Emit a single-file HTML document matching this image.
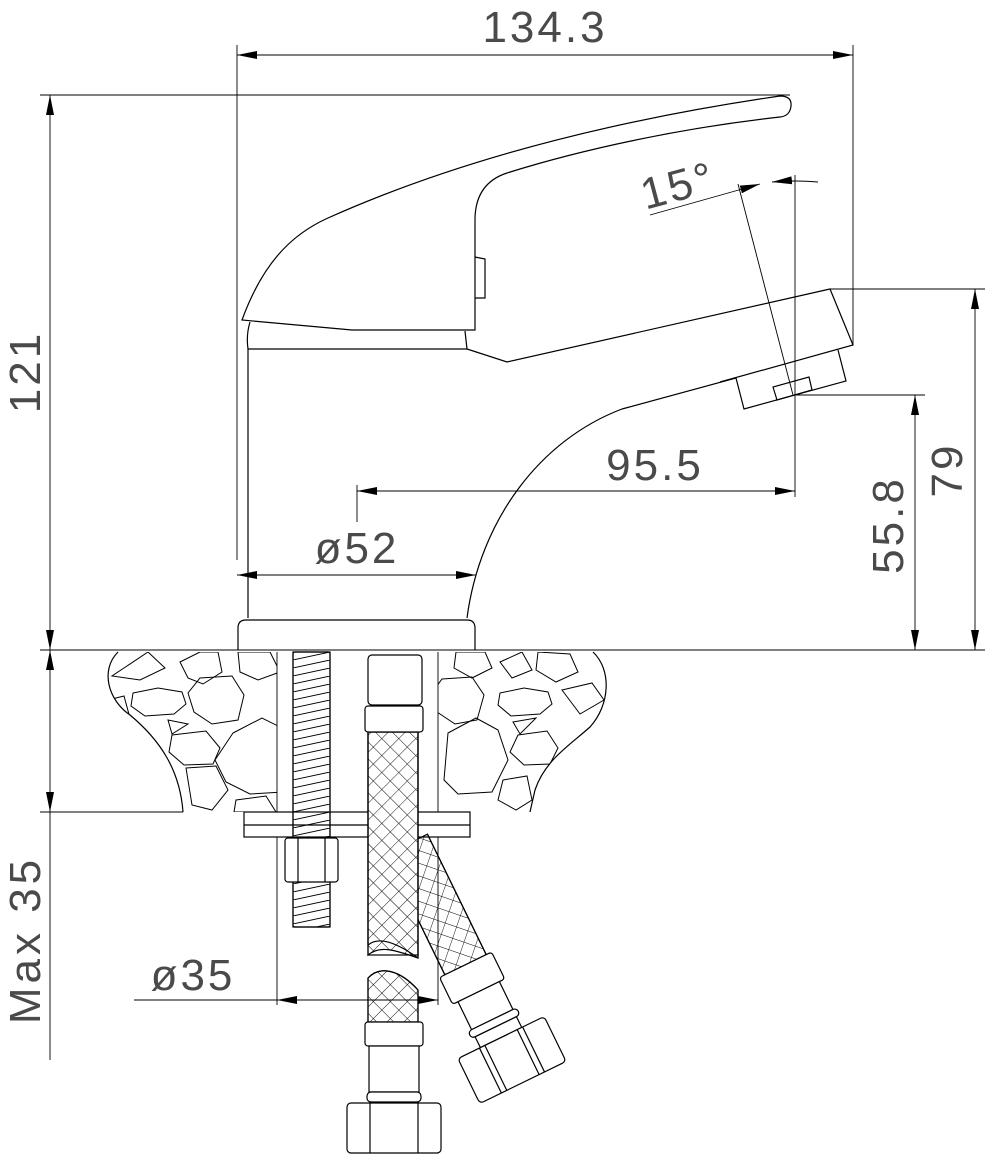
<!DOCTYPE html>
<html><head><meta charset="utf-8"><style>
html,body{margin:0;padding:0;background:#fff}
svg{display:block}
text{font-family:"Liberation Sans",sans-serif;fill:#4a4a4a}
</style></head><body>
<svg width="985" height="1161" viewBox="0 0 985 1161" xmlns="http://www.w3.org/2000/svg">
<defs>
<marker id="a" viewBox="0 0 20 8" refX="20" refY="4" markerWidth="20" markerHeight="8" markerUnits="userSpaceOnUse" orient="auto-start-reverse"><path d="M0,0 L20,4 L0,8z" fill="#000"/></marker>
<pattern id="rod" width="37" height="8" patternUnits="userSpaceOnUse" patternTransform="translate(293,652)"><line x1="0" y1="8" x2="37" y2="0" stroke="#000" stroke-width="0.9"/></pattern>
<pattern id="cross" width="12" height="12" patternUnits="userSpaceOnUse" patternTransform="rotate(45)"><path d="M0,0 V12 M0,0 H12" stroke="#000" stroke-width="0.9" fill="none"/></pattern>
<clipPath id="lstone"><path d="M118,652 L277,652 L277,812 L183,812 C180,770 160,740 130,715 C108,700 100,670 118,652z"/></clipPath>
<clipPath id="rstone"><path d="M438,652 L593,652 C612,670 610,705 590,727 C570,745 545,760 535,790 L530,812 L438,812z"/></clipPath>
</defs>
<g fill="none" stroke="#000" stroke-width="1.2">
<g stroke-width="0.9">
<line x1="237" y1="45" x2="237" y2="560"/>
<line x1="853" y1="45" x2="853" y2="345"/>
<line x1="237" y1="55" x2="853" y2="55" marker-start="url(#a)" marker-end="url(#a)"/>
<line x1="40" y1="95" x2="790" y2="95"/>
<line x1="50" y1="95" x2="50" y2="650" marker-start="url(#a)" marker-end="url(#a)"/>
<line x1="40" y1="650" x2="985" y2="650"/>
<line x1="830" y1="289" x2="985" y2="289"/>
<line x1="975" y1="289" x2="975" y2="650" marker-start="url(#a)" marker-end="url(#a)"/>
<line x1="795" y1="395" x2="925" y2="395"/>
<line x1="915" y1="395" x2="915" y2="650" marker-start="url(#a)" marker-end="url(#a)"/>
<line x1="795" y1="175" x2="795" y2="497"/>
<line x1="357" y1="485" x2="357" y2="522"/>
<line x1="357" y1="491" x2="795" y2="491" marker-start="url(#a)" marker-end="url(#a)"/>
<line x1="237" y1="575" x2="476" y2="575" marker-start="url(#a)" marker-end="url(#a)"/>
<line x1="738" y1="184" x2="793" y2="395"/>
<line x1="650" y1="215" x2="760" y2="184" marker-end="url(#a)"/>
<path d="M772,182 Q795,180 818,182" marker-start="url(#a)"/>
<line x1="40" y1="812" x2="183" y2="812"/>
<line x1="50" y1="650" x2="50" y2="812" marker-start="url(#a)" marker-end="url(#a)"/>
<line x1="50" y1="812" x2="50" y2="1060"/>
<line x1="277" y1="652" x2="277" y2="1005"/>
<line x1="438" y1="652" x2="438" y2="1005"/>
<line x1="134" y1="1000" x2="277" y2="1000"/>
<line x1="277" y1="1000" x2="438" y2="1000" marker-start="url(#a)" marker-end="url(#a)"/>
</g>
<path d="M242,320 C262,265 290,235 328,218 C480,150 650,115 780,96 Q792,96 791,106 Q790,116 780,117 C680,128 580,150 507,173 Q476,183 475,218 L475,330 L352,330 L242,320z"/>
<path d="M475,257 L485,259 L485,298 L475,298"/>
<path d="M250,322 Q246,335 248,349 L467,349 L465,331"/>
<path d="M467,349 L507,362 L830,289 L853,345 L720,382"/>
<path d="M736,378 L744,409 L846,381 L838,350"/>
<path d="M773,387 L777,400 L812,390 L809,377z"/>
<path d="M736,378 L622,409 C540,440 480,520 467,618"/>
<path d="M248,349 L248,618"/>
<path d="M238,650 L238,628 Q238,620 246,620 L467,620 Q475,620 475,628 L475,650"/>
<path d="M118,652 C100,670 108,700 130,715 C160,740 180,770 183,812"/>
<path d="M593,652 C612,670 610,705 590,727 C570,745 545,760 535,790 L530,812"/>
<g clip-path="url(#lstone)" stroke-width="1">
<polygon points="133,693 158,688 182,692 186,704 174,714 145,716 131,706"/>
<polygon points="200,678 232,676 244,695 238,720 212,724 194,712 188,693"/>
<polygon points="233,733 262,718 282,728 284,792 250,794 226,782 215,760"/>
<polygon points="172,735 206,731 220,748 213,764 184,765 169,752"/>
<polygon points="168,720 188,724 172,734"/>
<polygon points="148,652 165,668 140,680 112,676"/>
<polygon points="180,662 200,652 218,652 222,672 203,684 188,678"/>
<polygon points="238,652 270,652 280,672 258,680 240,672"/>
<polygon points="186,768 216,766 228,790 212,810 192,805"/>
<polygon points="236,800 266,796 276,812 234,812"/>
<polygon points="108,700 124,696 130,718"/>
</g>
<g clip-path="url(#rstone)" stroke-width="1">
<polygon points="500,693 524,688 548,692 552,704 540,714 511,716 498,705"/>
<polygon points="442,679 472,677 484,695 477,720 455,724 437,712 431,694"/>
<polygon points="448,733 476,718 498,730 508,760 492,792 458,794 444,780"/>
<polygon points="518,735 547,731 558,748 550,764 524,765 510,752"/>
<polygon points="513,722 536,718 520,734"/>
<polygon points="538,652 570,654 578,672 556,682 536,670"/>
<polygon points="456,652 485,652 492,668 472,678 454,668"/>
<polygon points="500,662 522,652 532,670 512,678"/>
<polygon points="503,780 527,776 532,800 516,810 498,800"/>
<polygon points="562,690 592,683 604,700 580,714"/>
</g>
<rect x="244" y="812" width="226" height="25" fill="#fff"/>
<line x1="244" y1="825" x2="470" y2="825"/>
<rect x="293" y="652" width="37" height="275" fill="url(#rod)"/>
<rect x="293" y="652" width="37" height="275" rx="2"/>
<rect x="285" y="838" width="53" height="44" rx="3" fill="#fff"/>
<line x1="298" y1="838" x2="298" y2="882"/><line x1="325" y1="838" x2="325" y2="882"/>
<g transform="translate(512,1060) rotate(-26)">
<rect x="-23" y="-240" width="46" height="134" fill="url(#cross)"/>
<line x1="-23" y1="-240" x2="-23" y2="-106"/><line x1="23" y1="-240" x2="23" y2="-106"/>
<rect x="-29" y="-106" width="58" height="30" rx="3" fill="#fff"/>
<rect x="-23" y="-76" width="46" height="31" fill="#fff"/>
<rect x="-27" y="-45" width="54" height="8" rx="4" fill="#fff"/>
<rect x="-23" y="-37" width="46" height="12" fill="#fff"/>
<rect x="-48" y="-25" width="96" height="50" rx="4" fill="#fff"/>
<line x1="-24" y1="-25" x2="-24" y2="25"/><line x1="24" y1="-25" x2="24" y2="25"/>
<line x1="-18" y1="-25" x2="-18" y2="25"/><line x1="18" y1="-25" x2="18" y2="25"/>
</g>
<rect x="368" y="732" width="50" height="223" fill="#fff"/>
<path d="M368,732 V955 C380,945 395,950 418,958 V732z" fill="url(#cross)"/>
<path d="M368,732 V945 M418,732 V958"/>
<path d="M368,945 C380,935 400,945 418,958"/>
<path d="M368,1022 V978 C380,965 400,970 418,990 V1022z" fill="url(#cross)"/>
<path d="M368,1022 V978 C380,965 400,970 418,990 V1022"/>
<rect x="368" y="655" width="54" height="50" rx="4" fill="#fff"/>
<rect x="365" y="706" width="58" height="26" rx="3" fill="#fff"/>
<rect x="365" y="1022" width="58" height="24" rx="3" fill="#fff"/>
<rect x="369" y="1046" width="50" height="46" fill="#fff"/>
<rect x="367" y="1092" width="54" height="10" rx="4" fill="#fff"/>
<rect x="347" y="1103" width="94" height="50" rx="4" fill="#fff"/>
<line x1="370" y1="1103" x2="370" y2="1153"/><line x1="418" y1="1103" x2="418" y2="1153"/>
</g>
<g font-size="44">
<text x="545" y="42" text-anchor="middle" letter-spacing="3">134.3</text>
<text transform="translate(40,372) rotate(-90)" text-anchor="middle" letter-spacing="3">121</text>
<text transform="translate(962,470) rotate(-90)" text-anchor="middle" letter-spacing="3">79</text>
<text transform="translate(903,525) rotate(-90)" text-anchor="middle" letter-spacing="3">55.8</text>
<text transform="translate(40,940) rotate(-90)" text-anchor="middle" letter-spacing="4">Max 35</text>
<text x="655" y="480" text-anchor="middle" letter-spacing="3">95.5</text>
<text x="357" y="563" text-anchor="middle" letter-spacing="3">ø52</text>
<text x="193" y="990" text-anchor="middle" letter-spacing="3">ø35</text>
<text transform="translate(682,200) rotate(-15)" text-anchor="middle" letter-spacing="3">15°</text>
</g>
</svg>
</body></html>
